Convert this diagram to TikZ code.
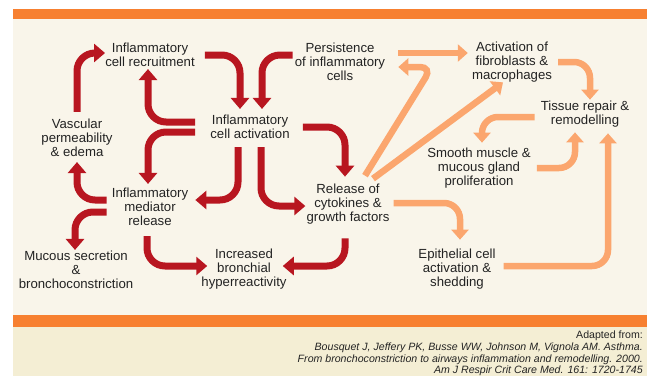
\documentclass[tikz,border=0pt]{standalone}
\usepackage{fontspec}
\setmainfont{Liberation Sans}
\usetikzlibrary{arrows.meta}
\definecolor{bandorange}{RGB}{247,128,48}
\definecolor{cream}{RGB}{249,245,234}
\definecolor{footbg}{RGB}{244,238,212}
\definecolor{darkred}{RGB}{184,22,32}
\definecolor{lightor}{RGB}{251,166,110}
\definecolor{txt}{RGB}{35,35,35}
\begin{document}
\begin{tikzpicture}[x=1pt,y=-1pt,
  lbl/.style={align=center,inner sep=0pt,font=\fontsize{13.2}{14}\selectfont,text=txt},
  rarr/.style={draw=darkred,line width=7pt,rounded corners=18pt,-{Triangle[width=18pt,length=11pt]}},
  oarr/.style={draw=lightor,line width=6.5pt,rounded corners=16pt,-{Triangle[width=17pt,length=10pt]}},
  reftext/.style={anchor=north east,inner sep=0pt,align=right,font=\fontsize{10.6}{11.6}\selectfont,text=txt}
]
\useasboundingbox (0,0) rectangle (654,376);
\fill[white] (0,0) rectangle (654,376);
\fill[cream] (13,19) rectangle (647,315);
\fill[bandorange] (13,9) rectangle (647,19);
\fill[bandorange] (13,315) rectangle (647,327);
\fill[footbg] (13,327) rectangle (647,376);

\node[lbl] (rec) at (150,55) {Inflammatory\\cell recruitment};
\node[lbl] (pers) at (340,62) {Persistence\\of inflammatory\\cells};
\node[lbl] (fib) at (512,62) {Activation of\\fibroblasts \&\\macrophages};
\node[lbl] (tis) at (585,114) {Tissue repair \&\\remodelling};
\node[lbl] (act) at (250,127) {Inflammatory\\cell activation};
\node[lbl] (vas) at (77,138) {Vascular\\permeability\\\& edema};
\node[lbl] (smo) at (479,168) {Smooth muscle \&\\mucous gland\\proliferation};
\node[lbl] (med) at (150,207) {Inflammatory\\mediator\\release};
\node[lbl] (cyt) at (348,204) {Release of\\cytokines \&\\growth factors};
\node[lbl] (muc) at (76,270) {Mucous secretion\\\&\\bronchoconstriction};
\node[lbl] (inc) at (244,269) {Increased\\bronchial\\hyperreactivity};
\node[lbl] (epi) at (457,269) {Epithelial cell\\activation \&\\shedding};

\node[reftext] (ref) at (643,331) {Adapted from:\\\textit{Bousquet J, Jeffery PK, Busse WW, Johnson M, Vignola AM. Asthma.}\\\textit{From bronchoconstriction to airways inflammation and remodelling. 2000.}\\\textit{Am J Respir Crit Care Med. 161: 1720-1745}};

% red arrows
\draw[rarr] ([yshift=7pt]vas.north) |- ([yshift=2pt]rec.west);
\draw[rarr] ([xshift=10pt]rec.east) -| ([xshift=-10pt,yshift=6pt]act.north);
\draw[rarr] ([xshift=-2pt,yshift=7pt]pers.west) -| ([xshift=12pt,yshift=6pt]act.north);
\draw[rarr] ([xshift=-15pt,yshift=5pt]act.west) -| ([xshift=-2pt,yshift=-2pt]rec.south);
\draw[rarr] ([xshift=-15pt,yshift=-5pt]act.west) -| ([xshift=-2pt,yshift=4pt]med.north);
\draw[rarr] ([xshift=13pt]act.east) -| ([xshift=-3pt,yshift=7pt]cyt.north);
\draw[rarr] ([xshift=-12pt,yshift=-8pt]act.south) |- ([xshift=7pt,yshift=7pt]med.east);
\draw[rarr] ([xshift=11pt,yshift=-8pt]act.south) |- ([xshift=-1pt,yshift=-2pt]cyt.west);
\draw[rarr] ([xshift=-5pt,yshift=7pt]med.west) -| ([yshift=-5pt]vas.south);
\draw[rarr] ([xshift=-5pt,yshift=-5pt]med.west) -| ([xshift=-1pt,yshift=1pt]muc.north);
\draw[rarr] ([xshift=-3pt,yshift=-10pt]med.south) |- ([xshift=6pt,yshift=3pt]inc.west);
\draw[rarr] ([xshift=-3pt,yshift=-14pt]cyt.south) |- ([xshift=-4pt,yshift=3pt]inc.east);

% light orange arrows
\draw[oarr] ([xshift=13pt,yshift=9pt]pers.east) -- ([xshift=-4pt,yshift=9pt]fib.west);
\draw[oarr,rounded corners=12pt] ([xshift=17pt,yshift=8pt]cyt.north) -- (432,67) -- ([xshift=13pt,yshift=-5pt]pers.east);
\draw[oarr] ([xshift=25pt,yshift=5pt]cyt.north) -- ([xshift=-9pt]fib.south);
\draw[oarr] ([xshift=6pt]fib.east) -| ([xshift=5pt,yshift=1pt]tis.north);
\draw[oarr] ([xshift=-6pt,yshift=-3pt]tis.west) -| ([xshift=3pt,yshift=5pt]smo.north);
\draw[oarr] ([xshift=6pt]smo.east) -| ([xshift=-10pt,yshift=-5pt]tis.south);
\draw[oarr] ([xshift=8pt,yshift=3pt]epi.east) -| ([xshift=23pt,yshift=-6pt]tis.south);
\draw[oarr] ([xshift=4pt,yshift=1pt]cyt.east) -| ([xshift=3pt,yshift=9pt]epi.north);
\end{tikzpicture}
\end{document}
